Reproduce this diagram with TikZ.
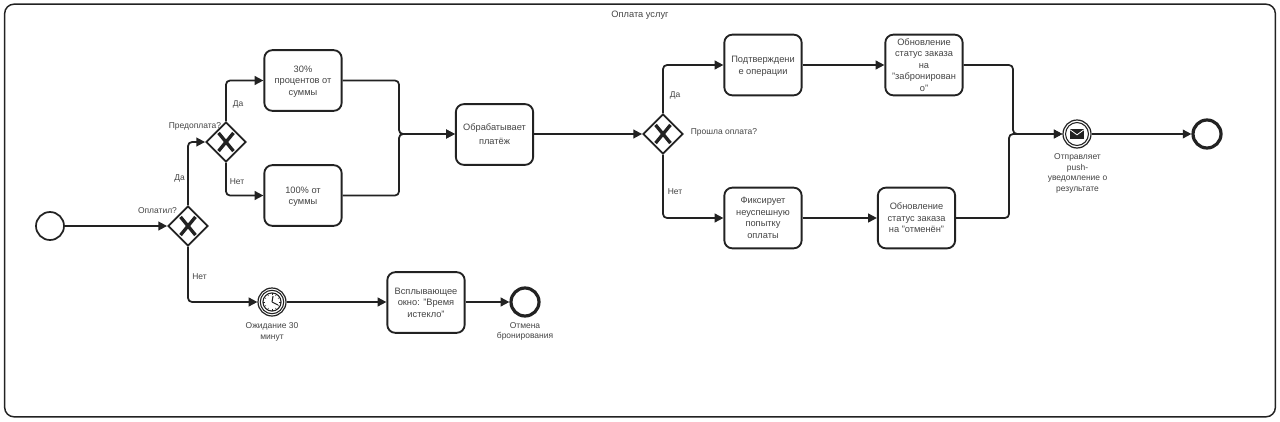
\documentclass[tikz,border=0pt]{standalone}
\usepackage{fontspec}
\setmainfont{Liberation Sans}
\usetikzlibrary{shapes.geometric,arrows.meta,calc}
\definecolor{ink}{HTML}{222222}
\definecolor{txt}{HTML}{444444}
\newcommand{\lowr}{\rule{0pt}{6.6pt}}
\tikzset{
  lbl/.style={font=\fontsize{6.35}{8}\selectfont,text=txt,align=center,inner sep=0pt,yshift=-0.7pt},
  taskbox/.style={draw=ink,line width=1.4pt,rounded corners=6pt,minimum width=58pt,minimum height=45.5pt,inner sep=0pt,align=center,font=\fontsize{6.95}{8.6}\selectfont,text=txt},
  gate/.style={diamond,draw=ink,line width=1.4pt,minimum width=30pt,minimum height=30pt,inner sep=0pt,aspect=1,
    path picture={\draw[ink,line width=2.5pt] ($(path picture bounding box.center)+(-5.6pt,-6.8pt)$) -- ++(11.2pt,13.6pt) ($(path picture bounding box.center)+(-5.6pt,6.8pt)$) -- ++(11.2pt,-13.6pt);}},
  startev/.style={circle,draw=ink,line width=1.3pt,minimum size=21pt,inner sep=0pt},
  endev/.style={circle,draw=ink,line width=2.4pt,minimum size=21pt,inner sep=0pt},
  interm/.style={circle,draw=ink,line width=.9pt,minimum size=21pt,inner sep=0pt},
  flow/.style={draw=ink,line width=1.3pt,rounded corners=3pt,-{Triangle[length=6.5pt,width=6.5pt]}},
}
\begin{document}
\begin{tikzpicture}[x=0.75pt,y=-0.75pt]
\useasboundingbox (0,0) rectangle (1280,421);
\fill[white] (0,0) rectangle (1280,421);
\node[draw=ink,line width=1.1pt,rounded corners=7pt,minimum width=953pt,minimum height=309.5pt,inner sep=0pt] (pool) at (640,210.5) {};
\node[lbl,font=\fontsize{6.95}{8.6}\selectfont] (title) at (640,14.5) {Оплата услуг};

\node[startev] (start) at (50,226) {};
\node[gate] (g1) at (188,226) {};
\node[gate] (g2) at (226,142) {};
\node[taskbox] (t30) at (303,80.5) {\lowr 30\%\\процентов от\\суммы};
\node[taskbox] (t100) at (303,195.5) {\lowr 100\% от\\суммы};
\node[taskbox] (pay) at (494.5,134.5) {Обрабатывает\\[1.8pt]платёж};
\node[gate] (g3) at (663,134) {};
\node[taskbox] (conf) at (763,65) {\lowr Подтверждени\\е операции};
\node[taskbox] (upd1) at (924,65) {Обновление\\статус заказа\\на\\"забронирован\\о"};
\node[taskbox] (fix) at (763,218) {Фиксирует\\неуспешную\\попытку\\оплаты};
\node[taskbox] (upd2) at (916.5,218) {Обновление\\статус заказа\\на "отменён"};
\node[interm] (msg) at (1077,134) {};
\node[endev] (end1) at (1207,134) {};
\node[interm] (timer) at (272,302) {};
\node[taskbox] (popup) at (426,302.5) {Всплывающее\\окно: "Время\\истекло"};
\node[endev] (end2) at (525,302) {};

% inner rings and icons
\draw[ink,line width=.8pt] (msg.center) circle (8.6pt);
\fill[ink] ($(msg.center)+(-5.2pt,-3.4pt)$) rectangle ($(msg.center)+(5.2pt,3.6pt)$);
\draw[white,line width=.6pt] ($(msg.center)+(-5.2pt,3.2pt)$) -- ($(msg.center)+(0,-.6pt)$) -- ($(msg.center)+(5.2pt,3.2pt)$);
\draw[ink,line width=.8pt] (timer.center) circle (8.8pt);
\draw[ink,line width=.8pt] (timer.center) circle (6.8pt);
\draw[ink,line width=.8pt] (timer.center) -- ++(1,-6) (timer.center) -- ++(6,3);
\foreach \a in {0,30,...,330}{\draw[ink,line width=.35pt] ($(timer.center)+(\a:5.2pt)$) -- ($(timer.center)+(\a:6.6pt)$);}

% labels
\node[lbl] (lq1) at (157.5,209.5) {Оплатил?};
\node[lbl] (lq2) at (195,125.5) {Предоплата?};
\node[lbl] (lq3) at (724,131) {Прошла оплата?};
\node[lbl] (ly1) at (179.5,177) {Да};
\node[lbl] (ln1) at (199.5,276) {Нет};
\node[lbl] (ly2) at (238,103) {Да};
\node[lbl] (ln2) at (237,180.5) {Нет};
\node[lbl] (ly3) at (675,94) {Да};
\node[lbl] (ln3) at (675,191) {Нет};
\node[lbl] (ltimer) at (272,331) {Ожидание 30\\минут};
\node[lbl] (lend2) at (525,330.5) {Отмена\\бронирования};
\node[lbl] (lmsg) at (1077.5,172.5) {Отправляет\\push-\\уведомление о\\результате};

% bends
\coordinate (m1) at (399,134);
\coordinate (m2) at (1013,134);
\coordinate (m3) at (1009,134);

% flows
\draw[flow] (start) -- (g1);
\draw[flow] (g1.north) |- (g2.west);
\draw[flow] (g1.south) |- (timer.west);
\draw[flow] (g2.north) |- (t30.west);
\draw[flow] (g2.south) |- (t100.west);
\draw[flow] (t30.east) -| (m1) -- (m1 -| pay.west);
\draw[flow] (t100.east) -| (m1) -- (m1 -| pay.west);
\draw[flow] (pay.east |- g3) -- (g3.west);
\draw[flow] (g3.north) |- (conf.west);
\draw[flow] (g3.south) |- (fix.west);
\draw[flow] (conf) -- (upd1);
\draw[flow] (fix) -- (upd2);
\draw[flow] (upd1.east) -| (m2) -- (msg.west);
\draw[flow] (upd2.east) -| (m3) -- (msg.west);
\draw[flow] (msg) -- (end1);
\draw[flow] (timer) -- (popup.west |- timer);
\draw[flow] (popup.east |- end2) -- (end2);
\end{tikzpicture}
\end{document}
